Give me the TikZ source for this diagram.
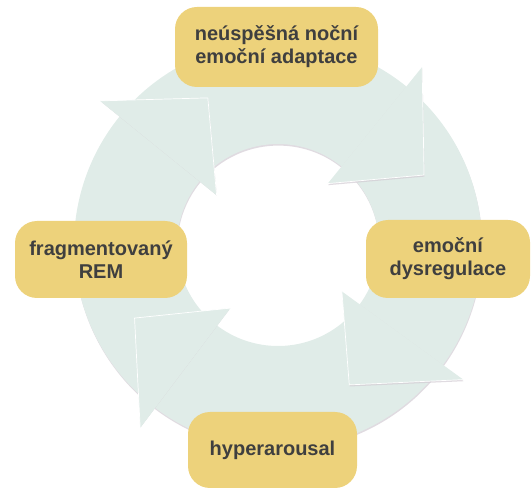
\documentclass[tikz,border=0pt]{standalone}
\usepackage{fontspec}
\setmainfont{Liberation Sans}
\definecolor{ring}{HTML}{E0ECE8}
\definecolor{ringshadow}{HTML}{D3CCD4}
\definecolor{gold}{HTML}{EDD27B}
\definecolor{ink}{HTML}{3F3F3F}
\begin{document}
\begin{tikzpicture}[x=1pt,y=-1pt,
  stage/.style={fill=gold, rounded corners=22pt, align=center, text=ink,
    font=\bfseries\fontsize{20}{23}\selectfont, inner sep=0pt},
  body/.style={fill=ring},
  head/.style={fill=ring},
  rim/.style={draw=white, line width=0.7pt, line join=miter},
  drop/.style={fill=ringshadow, opacity=0.7}]
\useasboundingbox (0,0) rectangle (531,489);

% circular arrow ring, drawn around its centre with y pointing up
\begin{scope}[shift={(278,245)}, yscale=-1]
  % shadows of the four ring segments
  \begin{scope}[shift={(0.4,-1.6)}]
    \fill[drop] (141:204) arc[start angle=141, end angle=51, radius=204] -- (51:101) arc[start angle=51, end angle=141, radius=101] -- cycle;
    \fill[drop] (51:204) arc[start angle=51, end angle=-36, radius=204] -- (-36:101) arc[start angle=-36, end angle=51, radius=101] -- cycle;
    \fill[drop] (-36:204) arc[start angle=-36, end angle=-127, radius=204] -- (-127:101) arc[start angle=-127, end angle=-36, radius=101] -- cycle;
    \fill[drop] (-127:204) arc[start angle=-127, end angle=-219, radius=204] -- (-219:101) arc[start angle=-219, end angle=-127, radius=101] -- cycle;
  \end{scope}
  % ring segments
  \fill[body] (141:204) arc[start angle=141, end angle=51, radius=204] -- (51:101) arc[start angle=51, end angle=141, radius=101] -- cycle;
  \fill[body] (51:204) arc[start angle=51, end angle=-36, radius=204] -- (-36:101) arc[start angle=-36, end angle=51, radius=101] -- cycle;
  \fill[body] (-36:204) arc[start angle=-36, end angle=-127, radius=204] -- (-127:101) arc[start angle=-127, end angle=-36, radius=101] -- cycle;
  \fill[body] (-127:204) arc[start angle=-127, end angle=-219, radius=204] -- (-219:101) arc[start angle=-219, end angle=-127, radius=101] -- cycle;
  % arrowhead shadows, kept on the tip side of each base line
  \begin{scope}
    \clip (0,0) -- (51:400) -- (6:560) -- (-39:400) -- cycle;
    \fill[drop, shift={(0.4,-1.6)}] (51:229) -- (25.6:162) -- (51:79) -- cycle;
  \end{scope}
  \begin{scope}
    \clip (0,0) -- (-36:400) -- (-81:560) -- (-126:400) -- cycle;
    \fill[drop, shift={(0.4,-1.6)}] (-36:229) -- (-63:157) -- (-36:79) -- cycle;
  \end{scope}
  \begin{scope}
    \clip (0,0) -- (-127:400) -- (-172:560) -- (-217:400) -- cycle;
    \fill[drop, shift={(0.4,-1.6)}] (-127:229) -- (-153:161) -- (-127:79) -- cycle;
  \end{scope}
  \begin{scope}
    \clip (0,0) -- (141:400) -- (96:560) -- (51:400) -- cycle;
    \fill[drop, shift={(0.4,-1.6)}] (141:229) -- (115.5:163) -- (141:79) -- cycle;
  \end{scope}
  % arrowheads with a light rim along their two front edges
  \fill[head] (51:229) -- (25.6:162) -- (51:79) -- cycle;
  \draw[rim] (51:229) -- (25.6:162) -- (51:79);
  \fill[head] (-36:229) -- (-63:157) -- (-36:79) -- cycle;
  \draw[rim] (-36:229) -- (-63:157) -- (-36:79);
  \fill[head] (-127:229) -- (-153:161) -- (-127:79) -- cycle;
  \draw[rim] (-127:229) -- (-153:161) -- (-127:79);
  \fill[head] (141:229) -- (115.5:163) -- (141:79) -- cycle;
  \draw[rim] (141:229) -- (115.5:163) -- (141:79);
\end{scope}

% the four stages of the cycle
\node[stage, minimum width=203pt, minimum height=80pt] (night) at (276.5,47) {neúspěšná noční\\emoční adaptace};
\node[stage, minimum width=164pt, minimum height=78pt] (dysreg) at (448,259) {emoční\\dysregulace};
\node[stage, minimum width=169pt, minimum height=76pt] (hyper) at (272.5,450) {hyperarousal};
\node[stage, minimum width=172pt, minimum height=77pt] (frag) at (101,259.5) {fragmentovaný\\REM};
\end{tikzpicture}
\end{document}
